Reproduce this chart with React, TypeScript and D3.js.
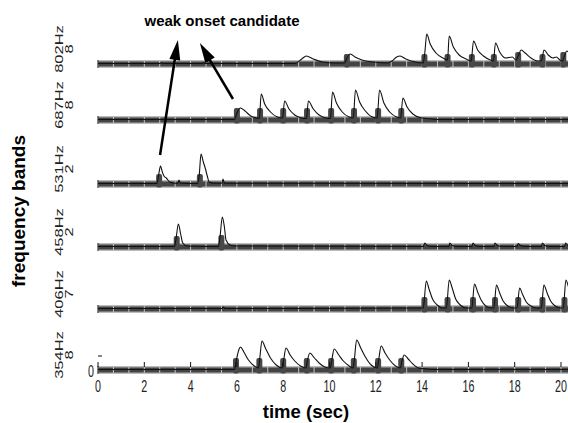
import React, { useRef, useEffect } from 'react';
import * as d3 from 'd3';

// frequency bands, top to bottom, and the number printed under each name
const bands = ['802Hz', '687Hz', '531Hz', '458Hz', '406Hz', '354Hz'];
const bandNums = ['8', '8', '2', '2', '7', '8'];
const xTicks = [0, 2, 4, 6, 8, 10, 12, 14, 16, 18, 20];

// energy envelope per band: [time (s), level]
const energy802 = [[0, 0.5], [2.7, 0.5], [2.75, 1.5], [2.8, 0.5], [4.5, 0.5], [4.55, 1.5], [4.6, 0.5],
  [8.5, 0.5], [8.8, 5], [9.0, 8], [9.3, 5], [9.7, 2], [10.2, 1], [10.65, 1],
  [10.75, 6], [10.9, 10], [11.1, 7], [11.4, 4], [11.9, 2], [12.5, 1],
  [12.7, 3], [12.9, 7], [13.05, 8], [13.3, 5], [13.7, 2], [14.05, 1],
  [14.12, 12], [14.2, 30], [14.35, 20], [14.6, 11], [14.9, 6], [15.1, 4],
  [15.17, 28], [15.35, 17], [15.6, 9], [15.9, 5], [16.12, 3],
  [16.22, 23], [16.4, 14], [16.65, 8], [16.95, 4], [17.08, 3],
  [17.17, 21], [17.35, 12], [17.6, 6], [17.9, 7], [18.05, 4],
  [18.15, 8], [18.28, 14], [18.45, 11], [18.7, 6], [19.0, 3], [19.15, 3],
  [19.27, 14], [19.45, 9], [19.65, 6], [19.8, 7], [19.95, 4], [20.05, 3],
  [20.15, 8], [20.25, 13], [20.45, 9], [20.7, 5]];
const energy687 = [[0, 0.5], [5.9, 0.5], [6.0, 7], [6.15, 12], [6.35, 9], [6.6, 4], [6.85, 2], [6.97, 1.5],
  [7.05, 26], [7.2, 16], [7.45, 8], [7.75, 3], [7.97, 2],
  [8.06, 19], [8.25, 11], [8.5, 5], [8.8, 2], [9.0, 1.5],
  [9.09, 19], [9.3, 11], [9.55, 5], [9.85, 2], [10.04, 1.5],
  [10.13, 28], [10.3, 17], [10.55, 8], [10.85, 3], [11.03, 2],
  [11.12, 30], [11.3, 18], [11.55, 9], [11.85, 3], [12.06, 2],
  [12.16, 30], [12.35, 17], [12.6, 8], [12.9, 3], [13.07, 2],
  [13.17, 22], [13.35, 13], [13.6, 6], [13.9, 2.5], [14.2, 1.5], [14.6, 0.5], [20.7, 0.5]];
const energy531 = [[0, 0.5], [2.55, 0.5], [2.62, 9], [2.7, 18], [2.78, 12], [2.85, 8], [2.95, 6], [3.1, 2],
  [3.3, 0.8], [3.45, 0.8], [3.5, 4], [3.56, 0.8], [4.3, 0.5], [4.37, 8], [4.45, 30], [4.55, 22],
  [4.63, 16], [4.72, 8], [4.8, 2], [5.0, 0.8], [5.35, 0.8], [5.4, 5], [5.46, 0.8], [20.7, 0.5]];
const energy458 = [[0, 0.5], [3.3, 0.5], [3.37, 8], [3.47, 23], [3.57, 13], [3.66, 4], [3.85, 1],
  [5.2, 0.5], [5.27, 10], [5.37, 30], [5.46, 20], [5.53, 7], [5.7, 2], [5.9, 1],
  [14.05, 0.5], [14.12, 4], [14.22, 1.5], [14.4, 0.5], [15.15, 0.5], [15.2, 4], [15.3, 1.5], [15.5, 0.5],
  [16.15, 0.5], [16.2, 4], [16.3, 1.5], [16.5, 0.5], [17.1, 0.5], [17.15, 4], [17.25, 1.5], [17.45, 0.5],
  [18.1, 0.5], [18.15, 3.5], [18.25, 1.5], [18.45, 0.5], [19.15, 0.5], [19.2, 4], [19.3, 1.5], [19.5, 0.5],
  [20.15, 0.5], [20.2, 4], [20.3, 1.5], [20.7, 0.5]];
const energy406 = [[0, 0.5], [5.35, 0.5], [5.4, 2], [5.5, 0.5],
  [14.05, 1], [14.18, 28], [14.3, 20], [14.45, 10], [14.65, 4], [14.9, 1],
  [15.05, 1], [15.17, 29], [15.3, 21], [15.45, 10], [15.65, 4], [15.9, 1],
  [16.15, 1], [16.26, 25], [16.4, 17], [16.55, 9], [16.75, 3], [17.0, 1],
  [17.1, 1], [17.21, 24], [17.35, 16], [17.5, 8], [17.7, 3], [17.95, 1],
  [18.1, 1], [18.21, 21], [18.35, 14], [18.5, 7], [18.7, 3], [18.95, 1],
  [19.15, 1], [19.26, 24], [19.4, 16], [19.55, 8], [19.75, 3], [20.0, 1],
  [20.1, 1], [20.21, 29], [20.35, 20], [20.5, 10]];
const energy354 = [[0, 0.5], [5.9, 0.5], [5.97, 9], [6.08, 20], [6.15, 23], [6.3, 18], [6.5, 10], [6.75, 4], [6.93, 2],
  [6.99, 12], [7.08, 29], [7.25, 21], [7.45, 12], [7.7, 5], [7.95, 2],
  [8.02, 10], [8.12, 22], [8.3, 15], [8.5, 9], [8.75, 4], [8.98, 2],
  [9.05, 10], [9.15, 17], [9.35, 12], [9.55, 7], [9.8, 3], [10.03, 2],
  [10.1, 10], [10.2, 21], [10.4, 15], [10.6, 9], [10.85, 4], [11.02, 2],
  [11.08, 12], [11.17, 30], [11.35, 22], [11.55, 13], [11.8, 5], [12.06, 2],
  [12.13, 11], [12.23, 24], [12.4, 17], [12.6, 10], [12.85, 4], [13.06, 2],
  [13.13, 9], [13.23, 15], [13.4, 11], [13.6, 6], [13.85, 2], [14.2, 1], [14.6, 0.5], [20.7, 0.5]];

// detected onsets per band: [time (s), marker height]
const onsets802 = [[10.75, 10], [14.1, 10], [15.1, 10], [16.15, 10], [17.1, 10], [18.15, 12], [19.2, 10], [20.1, 12]];
const onsets687 = [[6.0, 12], [7.0, 12], [8.0, 12], [9.03, 12], [10.07, 12], [11.06, 12], [12.1, 12], [13.1, 12]];
const onsets531 = [[2.64, 10], [4.4, 10]];
const onsets458 = [[3.4, 11], [5.33, 12]];
const onsets406 = [[14.1, 12], [15.1, 12], [16.2, 12], [17.15, 12], [18.15, 12], [19.2, 12], [20.15, 12]];
const onsets354 = [[5.96, 12], [6.97, 12], [8.0, 12], [9.02, 12], [10.07, 12], [11.05, 12], [12.1, 12], [13.1, 12]];

const energies = [energy802, energy687, energy531, energy458, energy406, energy354];
const onsets = [onsets802, onsets687, onsets531, onsets458, onsets406, onsets354];

// weak onset candidates the arrows start from: [time, band index]
const weakOnsets = [[2.68, 2], [5.83, 1]];
const arrowTipTimes = [3.45, 4.4];

const FONT = 'Liberation Sans, Arial, Helvetica, sans-serif';

const App = () => {
  const ref = useRef(null);

  useEffect(() => {
    const width = 568;
    const height = 423;
    const svg = d3.select(ref.current).attr('width', width).attr('height', height);
    svg.selectAll('*').remove();

    const panelBase = [64, 120, 184, 247, 309, 370];
    const left = 98;

    const x = d3.scaleLinear().domain([0, 20]).range([left, left + 20 * 23.15]);
    const tMax = x.invert(width);

    const line = d3.line().curve(d3.curveMonotoneX);

    bands.forEach((band, i) => {
      const base = panelBase[i];
      const y = d3.scaleLinear().domain([0, 30]).range([base, base - 30]);
      const g = svg.append('g');

      // baseline bar
      g.append('rect')
        .attr('x', left).attr('y', base - 3.5)
        .attr('width', width - left).attr('height', 7)
        .attr('fill', '#7a7a7a');
      g.append('rect')
        .attr('x', left).attr('y', base - 2)
        .attr('width', width - left).attr('height', 4)
        .attr('fill', '#444');
      g.selectAll('line.seg')
        .data(d3.range(0, tMax, 2 / 3))
        .enter().append('line')
        .attr('x1', d => x(d)).attr('x2', d => x(d))
        .attr('y1', base - 3.5).attr('y2', base + 3.5)
        .attr('stroke', '#c4c4c4').attr('stroke-width', 1);
      g.append('line')
        .attr('x1', left).attr('x2', left)
        .attr('y1', base - 4).attr('y2', base + 4)
        .attr('stroke', '#222');

      // onset markers
      g.selectAll('rect.onset')
        .data(onsets[i])
        .enter().append('rect')
        .attr('x', d => x(d[0]) - 3)
        .attr('y', d => y(d[1]))
        .attr('width', 6)
        .attr('height', d => base + 3.5 - y(d[1]))
        .attr('rx', 2)
        .attr('fill', '#484848');

      // energy envelope
      g.append('path')
        .attr('d', line(energies[i].map(d => [x(d[0]), y(d[1])])))
        .attr('fill', 'none')
        .attr('stroke', '#111')
        .attr('stroke-width', 1.1);

      // band label
      const cy = base - 15;
      g.append('text')
        .attr('transform', `translate(63,${cy}) scale(0.68,1) rotate(-90)`)
        .attr('text-anchor', 'middle')
        .style('font-family', FONT).style('font-size', '16.5px').attr('fill', '#222')
        .text(band);
      g.append('text')
        .attr('transform', `translate(72.5,${cy}) scale(0.68,1) rotate(-90)`)
        .attr('text-anchor', 'middle')
        .style('font-family', FONT).style('font-size', '16.5px').attr('fill', '#222')
        .text(bandNums[i]);
    });

    // bottom axis (on the last panel)
    const base = panelBase[panelBase.length - 1];
    svg.selectAll('line.xtick')
      .data(xTicks)
      .enter().append('line')
      .attr('x1', d => x(d)).attr('x2', d => x(d))
      .attr('y1', base - 3).attr('y2', base - 8)
      .attr('stroke', '#111');
    svg.selectAll('text.xtick')
      .data(xTicks)
      .enter().append('text')
      .attr('transform', d => `translate(${x(d)},391.5) scale(0.65,1)`)
      .attr('text-anchor', 'middle')
      .style('font-family', FONT).style('font-size', '16.5px').attr('fill', '#222')
      .text(d => d);

    // y ticks of the last panel
    svg.append('line')
      .attr('x1', left).attr('x2', left + 4)
      .attr('y1', base - 14).attr('y2', base - 14)
      .attr('stroke', '#111');
    svg.append('text')
      .attr('transform', `translate(94,377) scale(0.65,1)`)
      .attr('text-anchor', 'end')
      .style('font-family', FONT).style('font-size', '16.5px').attr('fill', '#222')
      .text('0');

    // axis titles
    svg.append('text')
      .attr('x', 306).attr('y', 418)
      .attr('text-anchor', 'middle')
      .style('font-family', FONT).style('font-size', '18.5px').style('font-weight', 'bold')
      .text('time (sec)');
    svg.append('text')
      .attr('transform', 'translate(25,211) rotate(-90)')
      .attr('text-anchor', 'middle')
      .style('font-family', FONT).style('font-size', '19px').style('font-weight', 'bold')
      .text('frequency bands');

    // annotation
    svg.append('text')
      .attr('x', 222).attr('y', 26)
      .attr('text-anchor', 'middle')
      .style('font-family', FONT).style('font-size', '15px').style('font-weight', 'bold')
      .text('weak onset candidate');

    const tails = [29, 21];
    const tipY = [40, 43];
    weakOnsets.forEach((w, k) => {
      const x0 = x(w[0]);
      const y0 = panelBase[w[1]] - tails[k];
      const x1 = x(arrowTipTimes[k]);
      const y1 = tipY[k];
      const ang = Math.atan2(y1 - y0, x1 - x0);
      const headLen = 20;
      const halfW = 5.5;
      const bx = x1 - headLen * Math.cos(ang);
      const by = y1 - headLen * Math.sin(ang);
      svg.append('line')
        .attr('x1', x0).attr('y1', y0)
        .attr('x2', bx + 4 * Math.cos(ang)).attr('y2', by + 4 * Math.sin(ang))
        .attr('stroke', '#000').attr('stroke-width', 2.5);
      const px = -Math.sin(ang);
      const py = Math.cos(ang);
      svg.append('path')
        .attr('d', `M${x1},${y1}L${bx + halfW * px},${by + halfW * py}L${bx - halfW * px},${by - halfW * py}Z`)
        .attr('fill', '#000');
    });
  }, []);

  return <svg ref={ref} style={{ position: 'absolute', left: 0, top: 0 }} />;
};

export default App;
